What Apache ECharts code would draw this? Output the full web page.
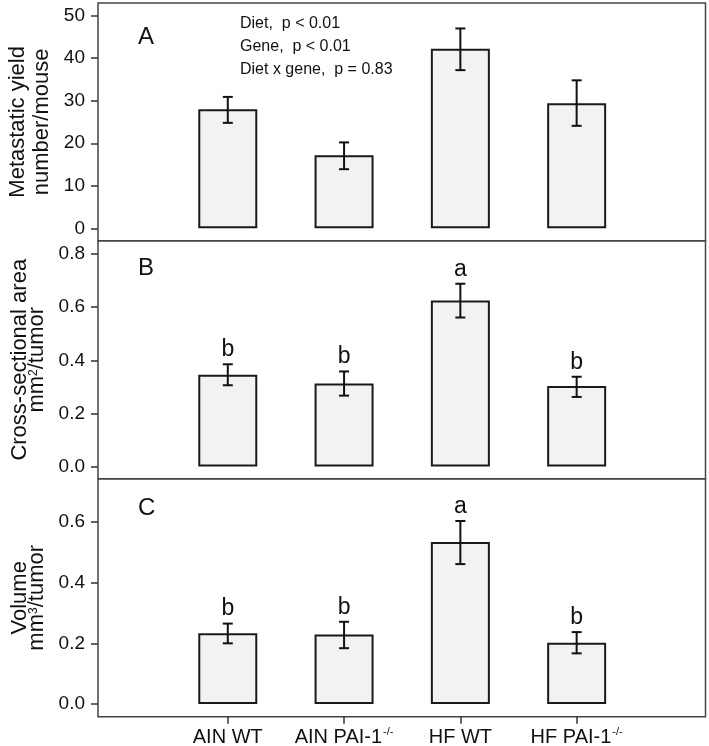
<!DOCTYPE html>
<html>
<head>
<meta charset="utf-8">
<script src="https://cdn.jsdelivr.net/npm/echarts@6/dist/echarts.min.js"></script>
<style>
html,body{margin:0;padding:0;background:#fff;}
#chart{width:709px;height:746px;}
</style>
</head>
<body>
<div id="chart"></div>
<script>
// ---- data ----
const categories = ['AIN WT', 'AIN PAI-1', 'HF WT', 'HF PAI-1'];
const categorySup = ['', '-/-', '', '-/-'];
const positions = [1, 2, 3, 4];

const yieldMean = [28.0, 17.2, 42.2, 29.4];
const yieldUpper = [30.9, 20.2, 47.0, 34.8];
const yieldLower = [24.8, 13.9, 37.2, 24.1];

const areaMean = [0.346, 0.313, 0.625, 0.303];
const areaUpper = [0.385, 0.358, 0.688, 0.338];
const areaLower = [0.306, 0.267, 0.561, 0.262];
const areaLetters = ['b', 'b', 'a', 'b'];

const volumeMean = [0.233, 0.229, 0.534, 0.202];
const volumeUpper = [0.265, 0.271, 0.603, 0.237];
const volumeLower = [0.200, 0.184, 0.461, 0.167];
const volumeLetters = ['b', 'b', 'a', 'b'];

const yieldTicks = [0, 10, 20, 30, 40, 50];
const areaTicks = [0, 0.2, 0.4, 0.6, 0.8];
const volumeTicks = [0, 0.2, 0.4, 0.6];

const statLines = ['Diet,  p < 0.01', 'Gene,  p < 0.01', 'Diet x gene,  p = 0.83'];

// ---- chart ----
const FONT = '"Liberation Sans", Arial, Helvetica, sans-serif';
const INK = '#111';
const FRAME = '#444';

const chart = echarts.init(document.getElementById('chart'), null, {renderer: 'canvas'});

function grid(top, height) {
  return {left: 98, right: 3.5, top: top, height: height, show: true,
          containLabel: false, outerBoundsMode: 'none',
          borderColor: FRAME, borderWidth: 1.5, backgroundColor: 'transparent'};
}

function xAxis(idx, showLabels) {
  return {
    type: 'value', gridIndex: idx, min: -0.116, max: 5.108,
    splitLine: {show: false}, axisLine: {show: false, onZero: false},
    axisTick: {show: showLabels, customValues: positions, length: 7, inside: false,
               lineStyle: {color: '#333', width: 1.5}},
    axisLabel: {
      show: showLabels, customValues: positions, margin: 10,
      formatter: function (v) {
        const i = Math.round(v) - 1;
        if (i < 0 || i >= categories.length) return '';
        return '{n|' + categories[i] + '}' + (categorySup[i] ? '{s|' + categorySup[i] + '}' : '');
      },
      rich: {
        n: {fontSize: 20, fontFamily: FONT, color: INK, lineHeight: 22},
        s: {fontSize: 11, fontFamily: FONT, color: INK, verticalAlign: 'top', lineHeight: 22, padding: [0, 0, 0, 1]}
      }
    }
  };
}

function yAxis(idx, min, max, ticks, name, lineH, gap) {
  return {
    type: 'value', gridIndex: idx, min: min, max: max,
    splitLine: {show: false}, axisLine: {show: false, onZero: false},
    axisTick: {show: true, customValues: ticks, length: 7, inside: false, lineStyle: {color: '#333', width: 1.5}},
    axisLabel: {
      customValues: ticks, margin: 13, fontSize: 19, fontFamily: FONT, color: INK,
      formatter: function (v) { return max < 5 ? v.toFixed(1) : String(Math.round(v)); }
    },
    name: name, nameLocation: 'middle', nameRotate: 90, nameGap: gap,
    nameTextStyle: {
      rich: {
        t: {fontSize: 22, fontFamily: FONT, color: INK, lineHeight: lineH},
        p: {fontSize: 12, fontFamily: FONT, color: INK, lineHeight: lineH, verticalAlign: 'top'}
      }
    }
  };
}

function barSeries(idx, values) {
  return {
    type: 'bar', xAxisIndex: idx, yAxisIndex: idx, barWidth: 59,
    data: positions.map((p, i) => [p, values[i]]),
    itemStyle: {color: '#f2f2f2', borderColor: '#1a1a1a', borderWidth: 2},
    silent: true, z: 2
  };
}

function errSeries(idx, values, lower, upper, letters) {
  return {
    type: 'custom', xAxisIndex: idx, yAxisIndex: idx, z: 3, silent: true,
    data: positions.map((p, i) => [p, values[i], lower[i], upper[i], i]),
    renderItem: function (params, api) {
      const x = api.value(0);
      const lo = api.coord([x, api.value(2)]);
      const hi = api.coord([x, api.value(3)]);
      const i = api.value(4);
      const cap = 5;
      const st = {stroke: '#111', lineWidth: 2};
      const children = [
        {type: 'line', shape: {x1: lo[0], y1: lo[1], x2: hi[0], y2: hi[1]}, style: st},
        {type: 'line', shape: {x1: hi[0] - cap, y1: hi[1], x2: hi[0] + cap, y2: hi[1]}, style: st},
        {type: 'line', shape: {x1: lo[0] - cap, y1: lo[1], x2: lo[0] + cap, y2: lo[1]}, style: st}
      ];
      if (letters) {
        children.push({type: 'text', x: hi[0], y: hi[1] - 3,
          style: {text: letters[i], fontSize: 23, fontFamily: FONT, fill: INK,
                  align: 'center', verticalAlign: 'bottom'}});
      }
      return {type: 'group', children: children};
    }
  };
}

const option = {
  animation: false,
  backgroundColor: '#fff',
  grid: [grid(3, 237.7), grid(240.7, 238.1), grid(478.8, 238)],
  xAxis: [xAxis(0, false), xAxis(1, false), xAxis(2, true)],
  yAxis: [
    yAxis(0, -2.92, 52.99, yieldTicks, '{t|Metastatic yield}\n{t|number/mouse}', 24, 38.5),
    yAxis(1, -0.046, 0.850, areaTicks, '{t|Cross-sectional area}\n{t|mm}{p|2}{t|/tumor}', 17, 51.7),
    yAxis(2, -0.042, 0.742, volumeTicks, '{t|Volume}\n{t|mm}{p|3}{t|/tumor}', 17, 51.7)
  ],
  graphic: [
    {type: 'text', x: 138, y: 37.5, style: {text: 'A', fontSize: 24, fontFamily: FONT, fill: INK, verticalAlign: 'middle'}},
    {type: 'text', x: 138, y: 268.7, style: {text: 'B', fontSize: 24, fontFamily: FONT, fill: INK, verticalAlign: 'middle'}},
    {type: 'text', x: 138, y: 508, style: {text: 'C', fontSize: 24, fontFamily: FONT, fill: INK, verticalAlign: 'middle'}},
    {type: 'text', x: 240, y: 12, style: {text: statLines.join('\n'), fontSize: 16, lineHeight: 23, fontFamily: FONT, fill: INK, verticalAlign: 'top'}}
  ],
  series: [
    barSeries(0, yieldMean), errSeries(0, yieldMean, yieldLower, yieldUpper, null),
    barSeries(1, areaMean), errSeries(1, areaMean, areaLower, areaUpper, areaLetters),
    barSeries(2, volumeMean), errSeries(2, volumeMean, volumeLower, volumeUpper, volumeLetters)
  ]
};
chart.setOption(option);
</script>
</body>
</html>
